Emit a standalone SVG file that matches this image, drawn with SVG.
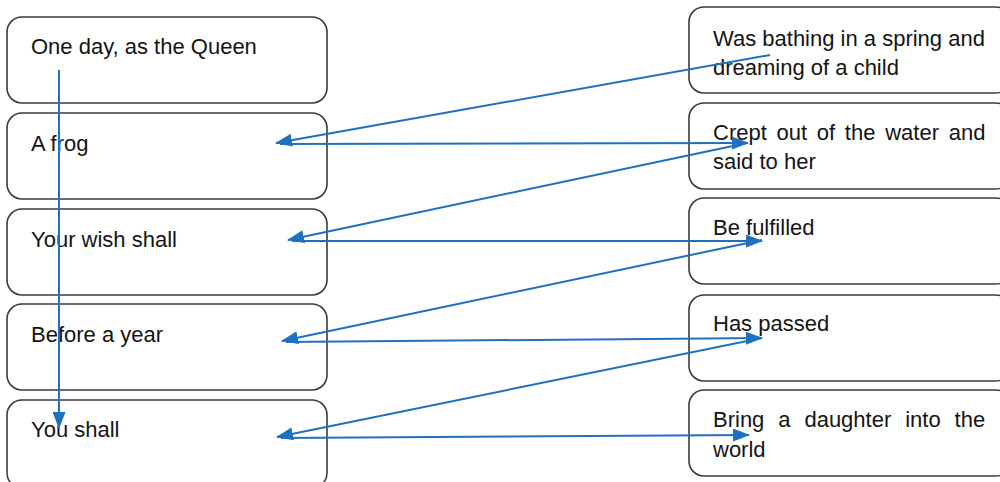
<svg xmlns="http://www.w3.org/2000/svg" width="1000" height="482" viewBox="0 0 1000 482">
<style>
.box{fill:#fff;stroke:#3a3a3a;stroke-width:1.6}
.t{font-family:"Liberation Sans",Arial,sans-serif;font-size:22px;fill:#141414}
.c{stroke:#1f70c1;stroke-width:2;fill:none;marker-end:url(#ah)}
</style>
<defs>
<marker id="ah" markerUnits="userSpaceOnUse" markerWidth="17" markerHeight="13" refX="16" refY="6.5" orient="auto">
<path d="M0,0 L17,6.5 L0,13 Z" fill="#1f70c1"/>
</marker>
</defs>
<rect width="1000" height="482" fill="#fff"/>
<g id="left1"><rect class="box" x="7" y="17" width="320" height="86" rx="15"/><text class="t" x="31" y="54">One day, as the Queen</text></g>
<g id="left2"><rect class="box" x="7" y="113" width="320" height="86" rx="15"/><text class="t" x="31" y="151">A frog</text></g>
<g id="left3"><rect class="box" x="7" y="209" width="320" height="86" rx="15"/><text class="t" x="31" y="247">Your wish shall</text></g>
<g id="left4"><rect class="box" x="7" y="304" width="320" height="86" rx="15"/><text class="t" x="31" y="342">Before a year</text></g>
<g id="left5"><rect class="box" x="7" y="400" width="320" height="88" rx="15"/><text class="t" x="31" y="437">You shall</text></g>
<g id="right1"><rect class="box" x="689" y="7" width="322" height="86" rx="15"/><text class="t" x="713" y="46">Was bathing in a spring and</text><text class="t" x="713" y="75">dreaming of a child</text></g>
<g id="right2"><rect class="box" x="689" y="103" width="322" height="86" rx="15"/><text class="t" x="713" y="140" word-spacing="3.6">Crept out of the water and</text><text class="t" x="713" y="169">said to her</text></g>
<g id="right3"><rect class="box" x="689" y="198" width="322" height="86" rx="15"/><text class="t" x="713" y="235">Be fulfilled</text></g>
<g id="right4"><rect class="box" x="689" y="295" width="322" height="86" rx="15"/><text class="t" x="713" y="331">Has passed</text></g>
<g id="right5"><rect class="box" x="689" y="390" width="322" height="86" rx="15"/><text class="t" x="713" y="427" word-spacing="7.8">Bring a daughter into the</text><text class="t" x="713" y="457">world</text></g>
<g id="connectors">
<line class="c" x1="59" y1="70" x2="59" y2="428"/>
<line class="c" x1="770" y1="55" x2="276" y2="143"/>
<line class="c" x1="280" y1="144" x2="748" y2="143"/>
<line class="c" x1="747" y1="143" x2="288" y2="240"/>
<line class="c" x1="292" y1="241" x2="762" y2="241"/>
<line class="c" x1="762" y1="240" x2="282" y2="341"/>
<line class="c" x1="286" y1="342" x2="762" y2="338"/>
<line class="c" x1="762" y1="338" x2="277" y2="437"/>
<line class="c" x1="281" y1="438" x2="749" y2="435"/>
</g>
</svg>
